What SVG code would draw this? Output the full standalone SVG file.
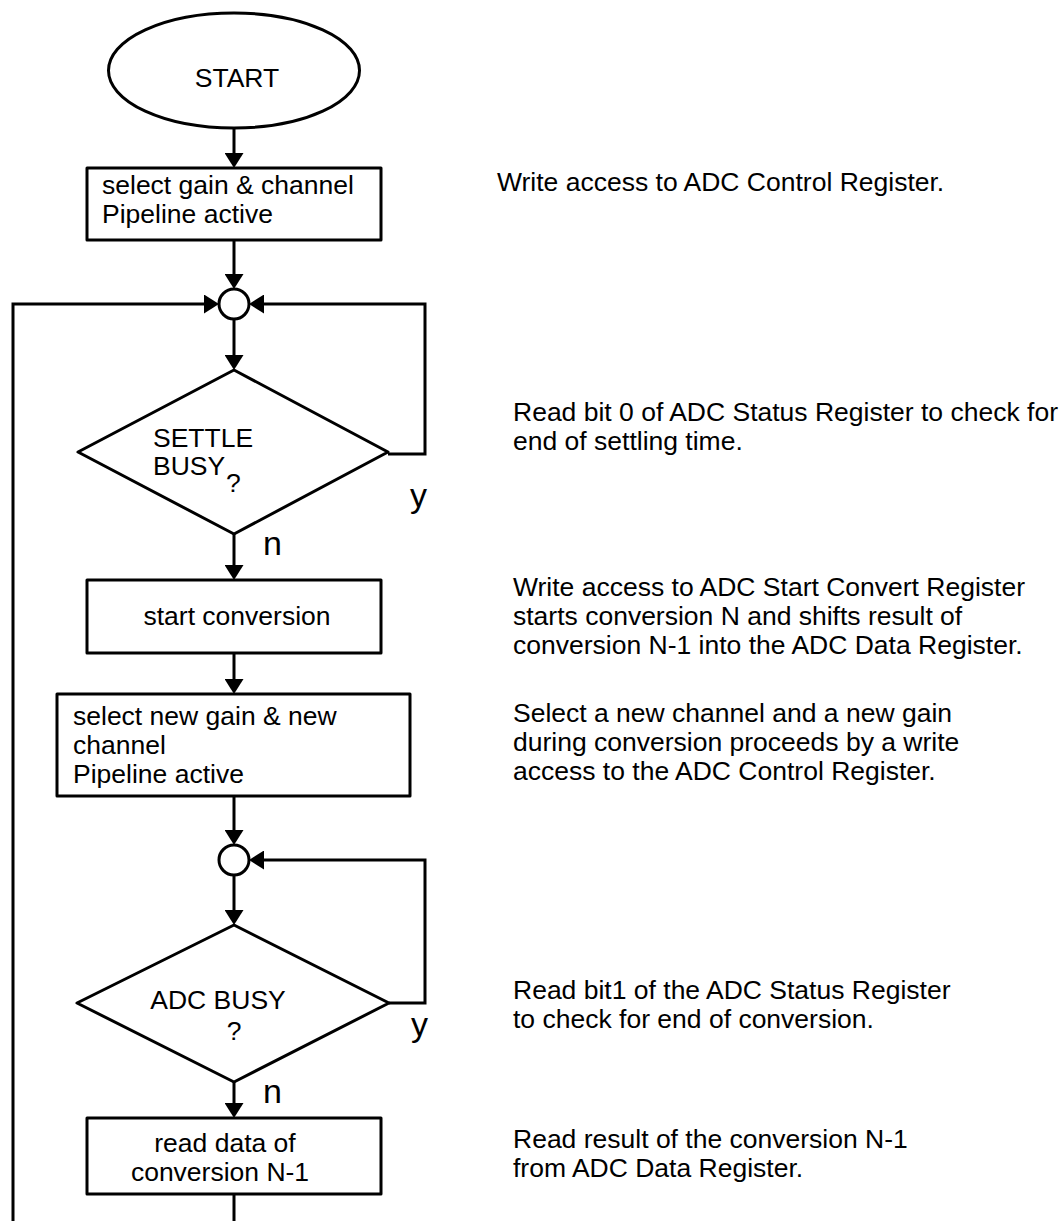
<svg xmlns="http://www.w3.org/2000/svg" width="1060" height="1221" viewBox="0 0 1060 1221">
  <style>
    .shape { fill: #ffffff; stroke: #000000; stroke-width: 3; stroke-linejoin: round; }
    .wire { fill: none; stroke: #000000; stroke-width: 3; }
    .t { font-family: "Liberation Sans", Arial, Helvetica, sans-serif; font-size: 26.5px; fill: #000000; }
    .yn { font-family: "Liberation Sans", Arial, Helvetica, sans-serif; font-size: 34px; fill: #000000; }
    .mid { text-anchor: middle; }
  </style>
  <defs>
    <marker id="arrow" viewBox="0 0 15 19" refX="10" refY="9.5" markerWidth="15" markerHeight="19" orient="auto" markerUnits="userSpaceOnUse">
      <path d="M0,0 L15,9.5 L0,19 Z" fill="#000000"/>
    </marker>
  </defs>

  <rect width="1060" height="1221" fill="#ffffff"/>

  <!-- connectors -->
  <g id="connectors" class="wire">
    <line x1="234" y1="128" x2="234" y2="163" marker-end="url(#arrow)"/>
    <line x1="234" y1="240" x2="234" y2="284" marker-end="url(#arrow)"/>
    <line x1="234" y1="319" x2="234" y2="365" marker-end="url(#arrow)"/>
    <line x1="234" y1="534" x2="234" y2="575" marker-end="url(#arrow)"/>
    <line x1="234" y1="653" x2="234" y2="689" marker-end="url(#arrow)"/>
    <line x1="234" y1="796" x2="234" y2="840" marker-end="url(#arrow)"/>
    <line x1="234" y1="875" x2="234" y2="920" marker-end="url(#arrow)"/>
    <line x1="234" y1="1082" x2="234" y2="1113" marker-end="url(#arrow)"/>
    <line x1="234" y1="1194" x2="234" y2="1221"/>
    <!-- return path from the bottom of the loop -->
    <path d="M13,1221 V304 H214" marker-end="url(#arrow)"/>
    <!-- SETTLE BUSY = y -->
    <path d="M388,454 H425 V304 H254" marker-end="url(#arrow)"/>
    <!-- ADC BUSY = y -->
    <path d="M389,1003 H425 V860 H254" marker-end="url(#arrow)"/>
  </g>

  <g id="start">
    <ellipse class="shape" cx="234" cy="70.5" rx="125.5" ry="57.5"/>
    <text class="t mid" x="237" y="87">START</text>
  </g>

  <g id="select-gain">
    <rect class="shape" x="87" y="168" width="294" height="72"/>
    <text class="t" x="102" y="194">select gain &amp; channel</text>
    <text class="t" x="102" y="223">Pipeline active</text>
  </g>

  <g id="junction-1">
    <circle class="shape" cx="234" cy="304" r="15"/>
  </g>

  <g id="settle-busy">
    <polygon class="shape" points="234,370 388,452 234,534 78,452"/>
    <text class="t" x="153" y="447">SETTLE</text>
    <text class="t" x="153" y="475">BUSY</text>
    <text class="t" x="226" y="492">?</text>
    <text class="yn" x="410" y="507">y</text>
    <text class="yn" x="263" y="555">n</text>
  </g>

  <g id="start-conversion">
    <rect class="shape" x="87" y="580" width="294" height="73"/>
    <text class="t mid" x="237" y="625">start conversion</text>
  </g>

  <g id="select-new-gain">
    <rect class="shape" x="57" y="694" width="353" height="102"/>
    <text class="t" x="73" y="725">select new gain &amp; new</text>
    <text class="t" x="73" y="754">channel</text>
    <text class="t" x="73" y="783">Pipeline active</text>
  </g>

  <g id="junction-2">
    <circle class="shape" cx="234" cy="860" r="15"/>
  </g>

  <g id="adc-busy">
    <polygon class="shape" points="234,925 389,1003 234,1082 77,1003"/>
    <text class="t mid" x="218" y="1009">ADC BUSY</text>
    <text class="t mid" x="234" y="1040">?</text>
    <text class="yn" x="411" y="1036">y</text>
    <text class="yn" x="263" y="1103">n</text>
  </g>

  <g id="read-data">
    <rect class="shape" x="87" y="1118" width="294" height="76"/>
    <text class="t mid" x="225" y="1152">read data of</text>
    <text class="t mid" x="220" y="1181">conversion N-1</text>
  </g>

  <!-- explanatory notes -->
  <g id="notes" class="t">
    <text x="497" y="191">Write access to ADC Control Register.</text>
    <text x="513" y="421">Read bit 0 of ADC Status Register to check for</text>
    <text x="513" y="450">end of settling time.</text>
    <text x="513" y="596">Write access to ADC Start Convert Register</text>
    <text x="513" y="625">starts conversion N and shifts result of</text>
    <text x="513" y="654">conversion N-1 into the ADC Data Register.</text>
    <text x="513" y="722">Select a new channel and a new gain</text>
    <text x="513" y="751">during conversion proceeds by a write</text>
    <text x="513" y="780">access to the ADC Control Register.</text>
    <text x="513" y="999">Read bit1 of the ADC Status Register</text>
    <text x="513" y="1028">to check for end of conversion.</text>
    <text x="513" y="1148">Read result of the conversion N-1</text>
    <text x="513" y="1177">from ADC Data Register.</text>
  </g>
</svg>
